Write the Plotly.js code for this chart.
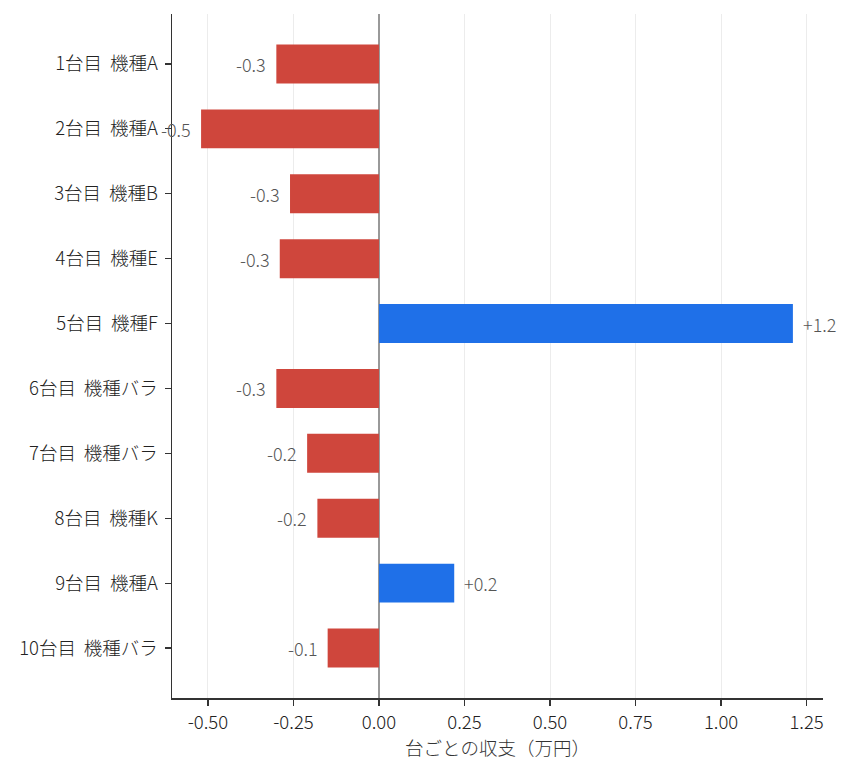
<!DOCTYPE html>
<html>
<head>
<meta charset="utf-8">
<script src="https://cdn.plot.ly/plotly-3.0.1.min.js"></script>
<style>
  html, body { margin: 0; padding: 0; background: #fff; }
  #chart { width: 854px; height: 770px; }
</style>
</head>
<body>
<div id="chart"></div>
<script>
// 台ごとの収支（万円）
const machines = [
  '1台目 機種A', '2台目 機種A', '3台目 機種B', '4台目 機種E', '5台目 機種F',
  '6台目 機種バラ', '7台目 機種バラ', '8台目 機種K', '9台目 機種A', '10台目 機種バラ'
];
const profits = [-0.30, -0.52, -0.26, -0.29, 1.21, -0.30, -0.21, -0.18, 0.22, -0.15];

const RED  = '#cf463c';
const BLUE = '#1f70e8';
const FONT = '"Noto Sans CJK JP", "Noto Sans", sans-serif';

const fmt = v => (v >= 0 ? '+' : '') + v.toFixed(1);

// slightly wider gap between 台目 and 機種, as in the source
const tickLabels = machines.map(m => m.replace(' ', ' \u2009'));

const trace = {
  type: 'bar',
  orientation: 'h',
  x: profits,
  y: machines,
  width: 0.6,
  marker: { color: profits.map(v => v >= 0 ? BLUE : RED), line: { width: 0 } },
  hoverinfo: 'skip',
};

const labels = profits.map((v, i) => ({
  x: v, y: machines[i], xref: 'x', yref: 'y',
  text: fmt(v), showarrow: false,
  xanchor: v >= 0 ? 'left' : 'right',
  xshift: v >= 0 ? 8 : -8,
  font: { family: FONT, size: 18, color: '#555', weight: 300 },
}));

const layout = {
  width: 854, height: 770,
  margin: { l: 172, r: 31, t: 14, b: 72 },
  paper_bgcolor: '#fff', plot_bgcolor: '#fff',
  font: { family: FONT, size: 18, color: '#222', weight: 300 },
  showlegend: false,
  xaxis: {
    range: [-0.605, 1.298],
    tickvals: [-0.5, -0.25, 0, 0.25, 0.5, 0.75, 1.0, 1.25],
    ticktext: ['-0.50', '-0.25', '0.00', '0.25', '0.50', '0.75', '1.00', '1.25'],
    showgrid: true, gridcolor: '#ececec', gridwidth: 1,
    zeroline: true, zerolinecolor: '#999', zerolinewidth: 1.5,
    showline: true, linecolor: '#333', linewidth: 1.5,
    ticks: 'outside', ticklen: 6, tickcolor: '#333', tickwidth: 1.2,
    ticklabelstandoff: 1,
    tickfont: { family: FONT, size: 18.5, color: '#222', weight: 300 },
    title: { text: '台ごとの収支（万円）', standoff: 2, font: { family: FONT, size: 18.5, color: '#333', weight: 300 } },
  },
  yaxis: {
    type: 'category',
    range: [9.77, -0.77],
    tickvals: machines, ticktext: tickLabels,
    showgrid: false, zeroline: false,
    showline: true, linecolor: '#333', linewidth: 1.5,
    ticks: 'outside', ticklen: 6, tickcolor: '#333', tickwidth: 1.2,
    ticklabelstandoff: 3,
    tickfont: { family: FONT, size: 18.5, color: '#222', weight: 300 },
  },
  annotations: labels,
};

Plotly.newPlot('chart', [trace], layout, { displayModeBar: false, staticPlot: true });
</script>
</body>
</html>
